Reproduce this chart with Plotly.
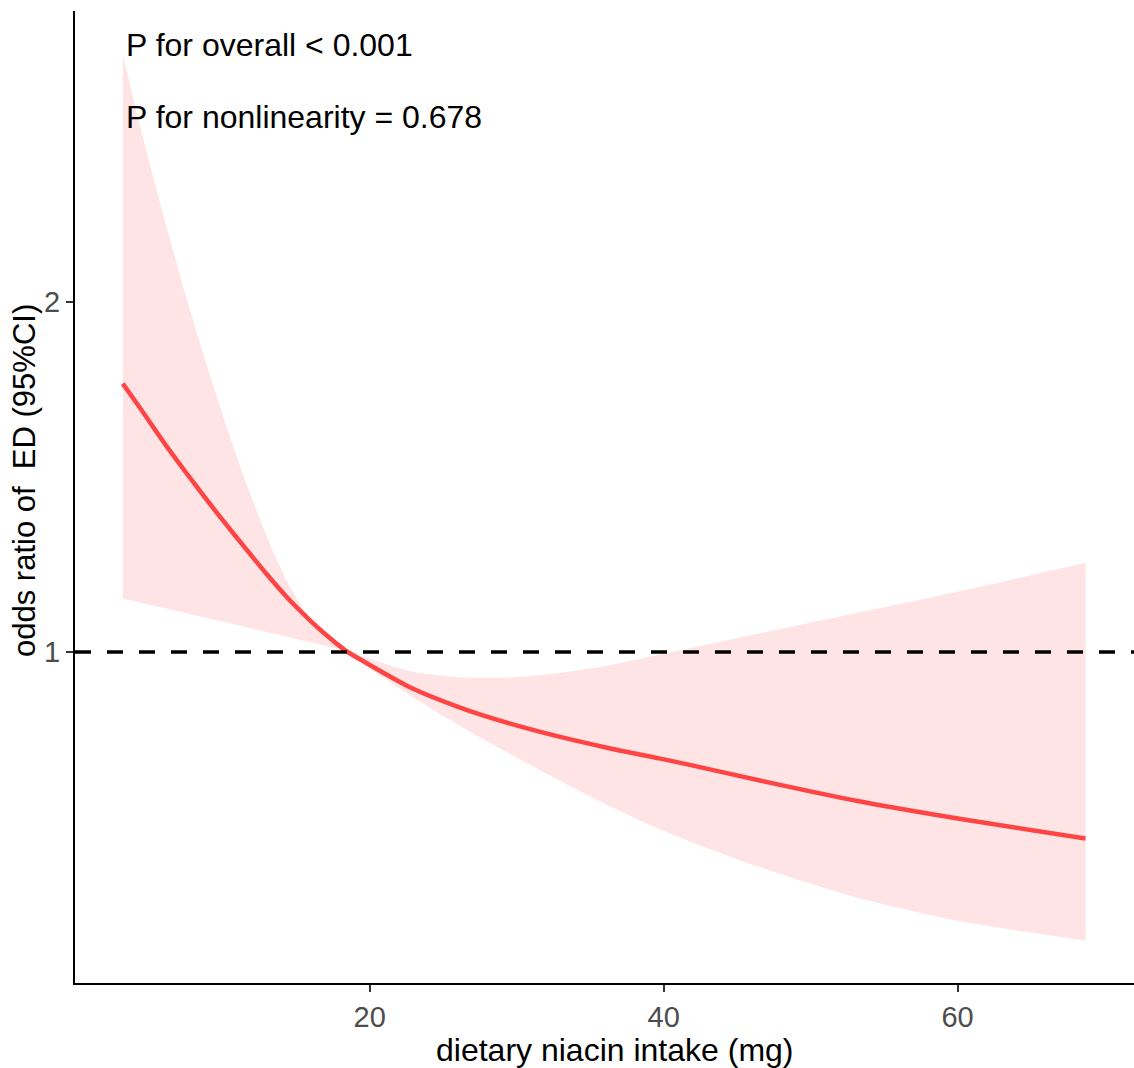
import plotly.graph_objects as go

# dietary niacin intake (mg)
niacin = [3.2, 4.4, 6.2, 7.5, 8.8, 10.3, 11.4, 13.0, 14.4, 15.9, 17.0, 18.2, 18.5, 19.3, 22.7,
          26.1, 29.5, 32.9, 36.3, 39.7, 41.7, 46.4, 53.2, 60.0, 68.7]
# odds ratio estimate
odds_ratio = [1.767, 1.696, 1.587, 1.513, 1.441, 1.361, 1.304, 1.222, 1.155, 1.092, 1.050, 1.009, 1.000,
              0.980, 0.900, 0.842, 0.796, 0.758, 0.725, 0.696, 0.678, 0.634, 0.574, 0.524, 0.467]
# 95% CI upper bound
ci_upper = [2.708, 2.499, 2.212, 2.017, 1.835, 1.640, 1.505, 1.330, 1.200, 1.095, 1.040, 1.005, 1.000,
            0.990, 0.946, 0.928, 0.927, 0.940, 0.962, 0.992, 1.010, 1.052, 1.112, 1.172, 1.255]
# 95% CI lower bound
ci_lower = [1.153, 1.141, 1.124, 1.111, 1.098, 1.084, 1.073, 1.057, 1.043, 1.029, 1.017, 1.006, 1.000,
            0.974, 0.877, 0.790, 0.710, 0.633, 0.560, 0.494, 0.460, 0.387, 0.298, 0.232, 0.175]

x_ticks = [20, 40, 60]
y_ticks = [1, 2]
ref_value = 1
annotations_text = ["P for overall < 0.001", "P for nonlinearity = 0.678"]
x_title = "dietary niacin intake (mg)"
y_title = "odds ratio of  ED (95%CI)"

FONT = "Liberation Sans, Arial, sans-serif"
RIBBON = "rgb(255,228,230)"
LINE = "rgb(255,68,68)"

W, H = 1134, 1068
ML, MR, MT, MB = 75, 0, 11, 85

fig = go.Figure()
fig.add_trace(go.Scatter(x=niacin, y=ci_lower, mode="lines",
                         line=dict(width=0, color=RIBBON, shape="spline", smoothing=0.7),
                         showlegend=False, hoverinfo="skip"))
fig.add_trace(go.Scatter(x=niacin, y=ci_upper, mode="lines",
                         line=dict(width=0, color=RIBBON, shape="spline", smoothing=0.7),
                         fill="tonexty", fillcolor=RIBBON, showlegend=False, hoverinfo="skip"))
fig.add_trace(go.Scatter(x=niacin, y=odds_ratio, mode="lines",
                         line=dict(width=4.5, color=LINE, shape="spline", smoothing=0.7),
                         showlegend=False))

fig.add_shape(type="line", xref="paper", x0=0, x1=1, yref="y", y0=ref_value, y1=ref_value,
              line=dict(color="black", width=3.5, dash="16px,16px"), layer="above")

fig.add_annotation(x=3.3, y=2.735, xref="x", yref="y", text=annotations_text[0], showarrow=False,
                   xanchor="left", yanchor="middle", font=dict(family=FONT, size=32, color="black"))
fig.add_annotation(x=3.3, y=2.53, xref="x", yref="y", text=annotations_text[1], showarrow=False,
                   xanchor="left", yanchor="middle", font=dict(family=FONT, size=32, color="black"))

plot_w = W - ML - MR
plot_h = H - MT - MB
# axis titles placed as annotations (pixel centres converted to paper coordinates)
fig.add_annotation(x=(614 - ML) / plot_w, y=(H - MB - 1050) / plot_h, xref="paper", yref="paper",
                   text=x_title, showarrow=False, xanchor="center", yanchor="middle",
                   font=dict(family=FONT, size=32, color="black"))
fig.add_annotation(x=(25 - ML) / plot_w, y=(H - MB - 481) / plot_h, xref="paper", yref="paper",
                   text=y_title, showarrow=False, xanchor="center", yanchor="middle",
                   textangle=-90, font=dict(family=FONT, size=31, color="black"))

fig.update_layout(
    width=W, height=H,
    margin=dict(l=ML, r=MR, t=MT, b=MB),
    paper_bgcolor="white", plot_bgcolor="white",
    font=dict(family=FONT, color="black"),
)
fig.update_xaxes(range=[-0.05, 72.0], tickvals=x_ticks, ticktext=[str(v) for v in x_ticks],
                 showgrid=False, zeroline=False, showline=True, linecolor="black", linewidth=2,
                 ticks="outside", ticklen=7, tickwidth=2, tickcolor="#333333",
                 tickfont=dict(family=FONT, size=29, color="#4D4D4D"))
fig.update_yaxes(range=[0.054, 2.832], tickvals=y_ticks, ticktext=[str(v) for v in y_ticks],
                 showgrid=False, zeroline=False, showline=True, linecolor="black", linewidth=2,
                 ticks="outside", ticklen=7, tickwidth=2, tickcolor="#333333",
                 tickfont=dict(family=FONT, size=29, color="#4D4D4D"))

fig.write_html("out.html")
